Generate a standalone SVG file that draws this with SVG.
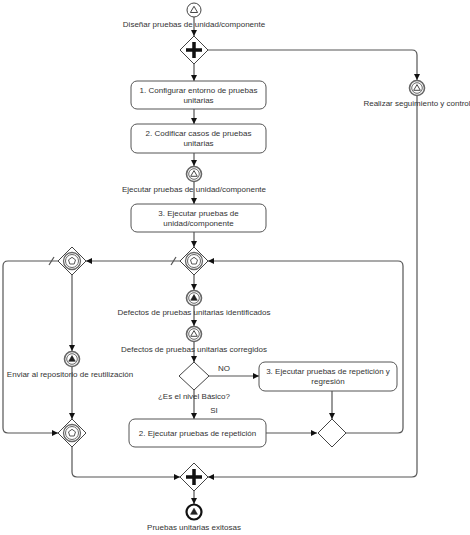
<svg xmlns="http://www.w3.org/2000/svg" width="470" height="535" viewBox="0 0 470 535">
<style>
text{font-family:"Liberation Sans",Arial,sans-serif;font-size:8px;fill:#333;text-anchor:middle}
.task{fill:#fff;stroke:#555;stroke-width:1}
.gw{fill:#fff;stroke:#444;stroke-width:1}
.ev{fill:#fff;stroke:#666;stroke-width:1.6}
.evi{fill:none;stroke:#666;stroke-width:1}
.flow{fill:none;stroke:#555;stroke-width:1.2}
.plus{stroke:#111;stroke-width:3.5}
.tri{fill:none;stroke:#333;stroke-width:0.9}
.trif{fill:#222;stroke:#222;stroke-width:0.6}
.pent{fill:#fff;stroke:#444;stroke-width:0.9}
</style>
<defs>
<marker id="arr" viewBox="0 0 10 10" refX="10" refY="5" markerWidth="6" markerHeight="6" orient="auto" markerUnits="userSpaceOnUse">
<path d="M0,0 L10,5 L0,10 z" fill="#111"/>
</marker>
</defs>

<g id="connectors">
<path class="flow" d="M194,17 V36" marker-end="url(#arr)"/>
<path class="flow" d="M194,64 V81" marker-end="url(#arr)"/>
<path class="flow" d="M208,50 H412 Q417,50 417,55 V80" marker-end="url(#arr)"/>
<path class="flow" d="M417,96 V472 Q417,477 412,477 H208" marker-end="url(#arr)"/>
<path class="flow" d="M194,109 V124" marker-end="url(#arr)"/>
<path class="flow" d="M194,153 V166" marker-end="url(#arr)"/>
<path class="flow" d="M194,182 V204" marker-end="url(#arr)"/>
<path class="flow" d="M194,232 V247" marker-end="url(#arr)"/>
<path class="flow" d="M180,261 H86" marker-end="url(#arr)"/>
<path class="flow" d="M171,265 L176,257"/>
<path class="flow" d="M58,261 H8 Q3,261 3,266 V428 Q3,433 8,433 H58" marker-end="url(#arr)"/>
<path class="flow" d="M49,265 L54,257"/>
<path class="flow" d="M72,275 V351" marker-end="url(#arr)"/>
<path class="flow" d="M72,367 V419" marker-end="url(#arr)"/>
<path class="flow" d="M72,447 V472 Q72,477 77,477 H180" marker-end="url(#arr)"/>
<path class="flow" d="M194,275 V290" marker-end="url(#arr)"/>
<path class="flow" d="M194,305 V326" marker-end="url(#arr)"/>
<path class="flow" d="M194,341 V362" marker-end="url(#arr)"/>
<path class="flow" d="M209,376 H259" marker-end="url(#arr)"/>
<path class="flow" d="M194,390 V419" marker-end="url(#arr)"/>
<path class="flow" d="M332,391 V419" marker-end="url(#arr)"/>
<path class="flow" d="M266,433 H317" marker-end="url(#arr)"/>
<path class="flow" d="M346,433 H398 Q403,433 403,428 V266 Q403,261 398,261 H208" marker-end="url(#arr)"/>
<path class="flow" d="M194,491 V504" marker-end="url(#arr)"/>
</g>

<g id="start">
<circle cx="194" cy="10" r="7" fill="#fff" stroke="#444" stroke-width="1"/>
<path class="tri" d="M194,6.3 L197.6,12.5 H190.4 z"/>
<text x="194" y="27">Diseñar pruebas de unidad/componente</text>
</g>

<g id="fork">
<path class="gw" d="M194,36 L208,50 L194,64 L180,50 z"/>
<path class="plus" d="M194,42 V58 M186,50 H202"/>
</g>

<g id="seguimiento">
<circle class="ev" cx="417" cy="88" r="7.5"/>
<circle class="evi" cx="417" cy="88" r="5.3"/>
<path class="tri" d="M417,84.6 L420.3,90.3 H413.7 z"/>
<text x="417" y="106">Realizar seguimiento y control</text>
</g>

<g id="task1">
<rect class="task" x="131" y="81" width="135" height="28" rx="6"/>
<text x="198.5" y="93">1. Configurar entorno de pruebas</text>
<text x="198.5" y="103">unitarias</text>
</g>

<g id="task2">
<rect class="task" x="131" y="124" width="135" height="29" rx="6"/>
<text x="198.5" y="136">2. Codificar casos de pruebas</text>
<text x="198.5" y="146">unitarias</text>
</g>

<g id="ejecutarEv">
<circle class="ev" cx="194" cy="174" r="7.5"/>
<circle class="evi" cx="194" cy="174" r="5.3"/>
<path class="tri" d="M194,170.6 L197.3,176.3 H190.7 z"/>
<text x="194" y="192">Ejecutar pruebas de unidad/componente</text>
</g>

<g id="task3">
<rect class="task" x="131" y="204" width="135" height="28" rx="6"/>
<text x="198.5" y="216">3. Ejecutar pruebas de</text>
<text x="198.5" y="226">unidad/componente</text>
</g>

<g id="gwEventMain">
<path class="gw" d="M194,247 L208,261 L194,275 L180,261 z"/>
<circle cx="194" cy="261" r="8.5" fill="none" stroke="#666" stroke-width="1.3"/>
<circle cx="194" cy="261" r="6.5" fill="none" stroke="#666" stroke-width="1"/>
<path class="pent" d="M194,257.3 L197.5,259.9 L196.2,264 H191.8 L190.5,259.9 z"/>
</g>

<g id="gwEventLeft">
<path class="gw" d="M72,247 L86,261 L72,275 L58,261 z"/>
<circle cx="72" cy="261" r="8.5" fill="none" stroke="#666" stroke-width="1.3"/>
<circle cx="72" cy="261" r="6.5" fill="none" stroke="#666" stroke-width="1"/>
<path class="pent" d="M72,257.3 L75.5,259.9 L74.2,264 H69.8 L68.5,259.9 z"/>
</g>

<g id="enviar">
<circle class="ev" cx="72" cy="359" r="7.5"/>
<circle class="evi" cx="72" cy="359" r="5.3"/>
<path class="trif" d="M72,355.6 L75.3,361.3 H68.7 z"/>
<text x="70" y="377">Enviar al repositorio de reutilización</text>
</g>

<g id="gwEventLeftBottom">
<path class="gw" d="M72,419 L86,433 L72,447 L58,433 z"/>
<circle cx="72" cy="433" r="8.5" fill="none" stroke="#666" stroke-width="1.3"/>
<circle cx="72" cy="433" r="6.5" fill="none" stroke="#666" stroke-width="1"/>
<path class="pent" d="M72,429.3 L75.5,431.9 L74.2,436 H69.8 L68.5,431.9 z"/>
</g>

<g id="defIdent">
<circle class="ev" cx="194" cy="298" r="7.5"/>
<circle class="evi" cx="194" cy="298" r="5.3"/>
<path class="trif" d="M194,294.6 L197.3,300.3 H190.7 z"/>
<text x="194" y="315">Defectos de pruebas unitarias identificados</text>
</g>

<g id="defCorr">
<circle class="ev" cx="194" cy="334" r="7.5"/>
<circle class="evi" cx="194" cy="334" r="5.3"/>
<path class="tri" d="M194,330.6 L197.3,336.3 H190.7 z"/>
<text x="194" y="352">Defectos de pruebas unitarias corregidos</text>
</g>

<g id="gwBasico">
<path class="gw" d="M194,362 L209,376 L194,390 L179,376 z"/>
<text x="224" y="371">NO</text>
<text x="194" y="399">¿Es el nivel Básico?</text>
<text x="214" y="413">SI</text>
</g>

<g id="taskRegresion">
<rect class="task" x="259" y="362" width="138" height="29" rx="6"/>
<text x="328" y="374">3. Ejecutar pruebas de repetición y</text>
<text x="328" y="384">regresión</text>
</g>

<g id="taskRepeticion">
<rect class="task" x="129" y="419" width="137" height="28" rx="6"/>
<text x="197.5" y="436">2. Ejecutar pruebas de repetición</text>
</g>

<g id="gwMerge">
<path class="gw" d="M332,419 L346,433 L332,447 L318,433 z"/>
</g>

<g id="join">
<path class="gw" d="M194,463 L208,477 L194,491 L180,477 z"/>
<path class="plus" d="M194,469 V485 M186,477 H202"/>
</g>

<g id="end">
<circle cx="194" cy="512" r="7.5" fill="#fff" stroke="#111" stroke-width="2.2"/>
<path class="trif" d="M194,508.3 L197.4,514.3 H190.6 z"/>
<text x="194" y="530">Pruebas unitarias exitosas</text>
</g>
</svg>
